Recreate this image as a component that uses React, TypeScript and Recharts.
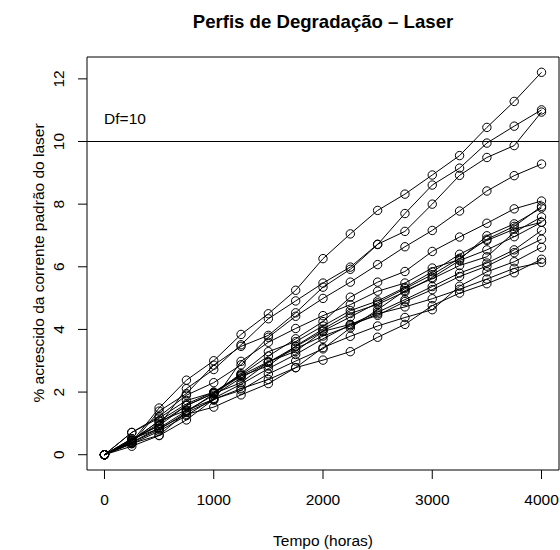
import React from "react";
import {
  LineChart,
  Line,
  XAxis,
  YAxis,
  ReferenceLine,
  ReferenceArea,
} from "recharts";

const hours = [0, 250, 500, 750, 1000, 1250, 1500, 1750, 2000, 2250, 2500, 2750, 3000, 3250, 3500, 3750, 4000];

const unit1 = [0, 0.47, 0.93, 2.11, 2.72, 3.51, 4.34, 4.91, 5.48, 5.99, 6.72, 7.13, 8.0, 8.92, 9.49, 9.87, 10.94];
const unit2 = [0, 0.71, 1.22, 1.9, 2.3, 2.87, 3.75, 4.42, 4.99, 5.51, 6.07, 6.64, 7.16, 7.78, 8.42, 8.91, 9.28];
const unit3 = [0, 0.71, 1.17, 1.73, 1.99, 2.53, 2.97, 3.3, 3.94, 4.16, 4.45, 4.89, 5.27, 5.69, 6.02, 6.45, 6.88];
const unit4 = [0, 0.36, 0.62, 1.36, 1.95, 2.3, 2.95, 3.39, 3.79, 4.11, 4.5, 4.72, 4.98, 5.28, 5.61, 5.95, 6.14];
const unit5 = [0, 0.27, 0.61, 1.11, 1.77, 2.06, 2.58, 2.99, 3.38, 4.05, 4.63, 5.24, 5.62, 6.04, 6.32, 7.1, 7.59];
const unit6 = [0, 0.36, 1.39, 1.95, 2.86, 3.46, 3.81, 4.53, 5.35, 5.92, 6.71, 7.7, 8.61, 9.15, 9.95, 10.49, 11.01];
const unit7 = [0, 0.45, 1.08, 1.62, 2.0, 2.55, 3.15, 3.7, 4.25, 5.03, 5.51, 5.85, 6.49, 6.95, 7.39, 7.85, 8.1];
const unit8 = [0, 0.46, 1.07, 1.42, 1.77, 2.11, 2.4, 2.78, 3.02, 3.29, 3.75, 4.16, 4.76, 5.16, 5.46, 5.81, 6.24];
const unit9 = [0, 0.51, 0.93, 1.57, 1.96, 2.59, 3.29, 3.61, 4.11, 4.6, 4.91, 5.34, 5.84, 6.4, 6.84, 7.2, 7.42];
const unit10 = [0, 0.41, 1.49, 2.38, 3.0, 3.84, 4.5, 5.25, 6.26, 7.05, 7.8, 8.32, 8.93, 9.55, 10.45, 11.28, 12.21];
const unit11 = [0, 0.44, 1.0, 1.57, 1.96, 2.51, 2.84, 3.47, 4.01, 4.51, 4.8, 5.2, 5.66, 6.2, 6.54, 6.96, 7.42];
const unit12 = [0, 0.39, 0.8, 1.35, 1.74, 2.98, 3.59, 4.03, 4.44, 4.79, 5.22, 5.48, 5.96, 6.23, 6.99, 7.37, 7.88];
const unit13 = [0, 0.4, 0.85, 1.4, 1.9, 2.45, 2.95, 3.45, 3.95, 4.4, 4.85, 5.3, 5.75, 6.27, 6.88, 7.29, 7.93];
const unit14 = [0, 0.35, 0.75, 1.25, 1.8, 2.25, 2.75, 3.2, 3.7, 4.15, 4.55, 4.95, 5.37, 5.8, 6.12, 6.54, 7.16];
const unit15 = [0, 0.51, 0.83, 1.29, 1.52, 1.91, 2.27, 2.78, 3.42, 3.78, 4.11, 4.38, 4.63, 5.38, 5.84, 6.16, 6.62];

const units = [unit1, unit2, unit3, unit4, unit5, unit6, unit7, unit8, unit9, unit10, unit11, unit12, unit13, unit14, unit15];

const xTicks = [0, 1000, 2000, 3000, 4000];
const yTicks = [0, 2, 4, 6, 8, 10, 12];

const data = hours.map((h, i) => {
  const row: Record<string, number> = { hours: h };
  units.forEach((u, j) => {
    row["u" + (j + 1)] = u[i];
  });
  return row;
});

const FONT = "'Liberation Sans', Arial, Helvetica, sans-serif";
const FS = 15.5;

const OpenDot = (props: any) => {
  const { cx, cy } = props;
  if (cx == null || cy == null) return null;
  return <circle cx={cx} cy={cy} r={4.2} fill="none" stroke="#000" strokeWidth={1} />;
};

const XTick = (props: any) => {
  const { x, payload } = props;
  return (
    <text x={x} y={505} textAnchor="middle" fontFamily={FONT} fontSize={FS} fill="#000">
      {payload.value}
    </text>
  );
};

const YTick = (props: any) => {
  const { y, payload } = props;
  return (
    <text
      x={64.5}
      y={y}
      transform={`rotate(-90 64.5 ${y})`}
      textAnchor="middle"
      fontFamily={FONT}
      fontSize={FS}
      fill="#000"
    >
      {payload.value}
    </text>
  );
};

export default function App() {
  return (
    <div style={{ position: "absolute", left: 0, top: 0, width: 560, height: 550, background: "#fff" }}>
      <LineChart width={560} height={550} data={data} margin={{ top: 57, right: 1, bottom: 0, left: 0 }}>
        <XAxis
          dataKey="hours"
          type="number"
          domain={[-160, 4160]}
          ticks={xTicks}
          allowDataOverflow
          axisLine={false}
          tickLine={{ stroke: "#000" }}
          tickSize={9}
          tick={<XTick />}
          height={80}
        />
        <YAxis
          type="number"
          domain={[-0.4884, 12.6984]}
          ticks={yTicks}
          allowDataOverflow
          axisLine={false}
          tickLine={{ stroke: "#000" }}
          tickSize={9}
          tick={<YTick />}
          width={87}
        />
        <ReferenceArea
          x1={-160}
          x2={4160}
          y1={-0.4884}
          y2={12.6984}
          fill="none"
          stroke="#000"
          strokeWidth={1}
          fillOpacity={0}
          ifOverflow="visible"
        />
        <ReferenceLine y={10} stroke="#000" strokeWidth={1} />
        {units.map((_, j) => (
          <Line
            key={j}
            dataKey={"u" + (j + 1)}
            stroke="#000"
            strokeWidth={1}
            dot={<OpenDot />}
            activeDot={false}
            isAnimationActive={false}
          />
        ))}
      </LineChart>
      <svg width={560} height={550} style={{ position: "absolute", left: 0, top: 0, pointerEvents: "none" }}>
        <text x={323} y={27.5} textAnchor="middle" fontFamily={FONT} fontSize={18.6} fontWeight="bold" fill="#000">
          Perfis de Degradação – Laser
        </text>
        <text x={323} y={545.5} textAnchor="middle" fontFamily={FONT} fontSize={FS} fill="#000">
          Tempo (horas)
        </text>
        <text
          x={44}
          y={263}
          transform="rotate(-90 44 263)"
          textAnchor="middle"
          fontFamily={FONT}
          fontSize={FS}
          fill="#000"
        >
          % acrescido da corrente padrão do laser
        </text>
        <text x={125} y={123.5} textAnchor="middle" fontFamily={FONT} fontSize={FS} fill="#000">
          Df=10
        </text>
      </svg>
    </div>
  );
}
